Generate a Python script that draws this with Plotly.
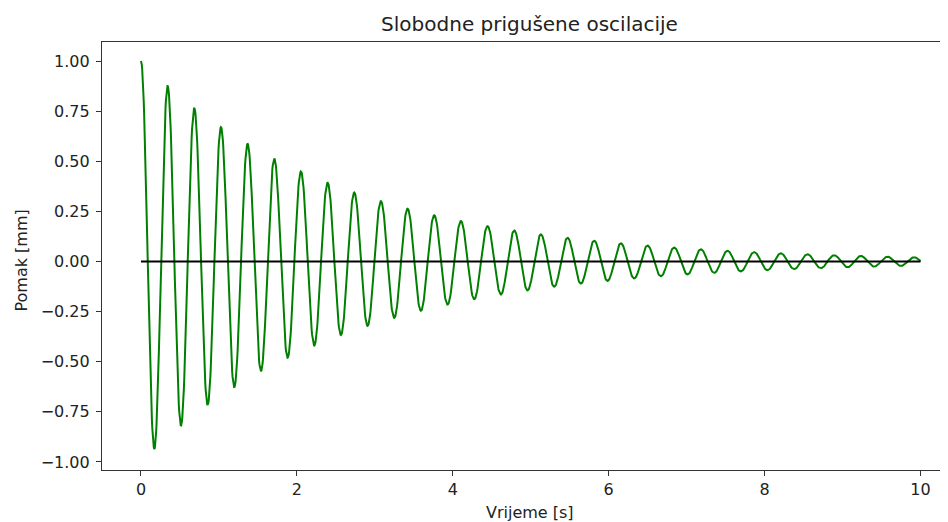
import numpy as np
import plotly.graph_objects as go

# Values
t_start, t_end = 0.0, 10.0        # time span [s]
x0 = 1.0                           # initial displacement [mm]
period = 0.342                     # damped period read from peak spacing [s]
peak_ratio = 0.875                 # ratio of successive peaks
n_samples = 2001

sigma = -np.log(peak_ratio) / period
omega_d = 2 * np.pi / period

t = np.linspace(t_start, t_end, n_samples)
x = x0 * np.exp(-sigma * t) * (np.cos(omega_d * t) + sigma / omega_d * np.sin(omega_d * t))

zero_t = [t_start, t_end]
zero_x = [0.0, 0.0]

y_ticks = [-1.00, -0.75, -0.50, -0.25, 0.00, 0.25, 0.50, 0.75, 1.00]
x_ticks = [0, 2, 4, 6, 8, 10]

# page body has an 8px offset; all target positions below are screen pixels
OFF = 8
W, H = 948, 522
L = 101.5 - OFF
T = 42 - OFF
R = OFF
B = H - (470 - OFF)
pw, ph = W - L - R, H - T - B
px_per_unit = 78.0
x_lo = -0.5
x_hi = x_lo + pw / px_per_unit


def ann_pos(sx, sy):
    fx, fy = sx - OFF, sy - OFF
    return (fx - L) / pw, 1 - (fy - T) / ph


fig = go.Figure()
fig.add_trace(go.Scatter(x=t, y=x, mode="lines", line=dict(color="#008000", width=2), hoverinfo="skip"))
fig.add_trace(go.Scatter(x=zero_t, y=zero_x, mode="lines", line=dict(color="black", width=2), hoverinfo="skip"))

font = "DejaVu Sans"
ax_x, ax_y = ann_pos(530, 512)
ay_x, ay_y = ann_pos(20, 261)
fig.update_layout(
    width=W, height=H,
    margin=dict(l=L, r=R, t=T, b=B, autoexpand=False),
    paper_bgcolor="white", plot_bgcolor="white",
    showlegend=False,
    font=dict(family=font, size=16, color="#222"),
    title=dict(text="Slobodne prigušene oscilacije", x=(529.5 - OFF) / W, xref="container", xanchor="center",
               y=1 - (24 - OFF) / H, yref="container", yanchor="middle", font=dict(size=20, color="#222")),
    xaxis=dict(range=[x_lo, x_hi], tickvals=x_ticks, ticktext=[str(v) for v in x_ticks],
               showgrid=False, zeroline=False, showline=True, linecolor="#333", linewidth=1.2,
               mirror=True, ticks="outside", ticklen=5, tickcolor="#333", automargin=False),
    yaxis=dict(range=[-1.0404, 1.0948], tickvals=y_ticks, ticktext=[f"{v:.2f}".replace("-", "\u2212") for v in y_ticks],
               showgrid=False, zeroline=False, showline=True, linecolor="#333", linewidth=1.2,
               mirror=False, ticks="outside", ticklen=5, tickcolor="#333", automargin=False,
               ticklabelstandoff=3),
    annotations=[
        dict(text="Vrijeme [s]", x=ax_x, y=ax_y, xref="paper", yref="paper",
             xanchor="center", yanchor="middle", showarrow=False, font=dict(size=16, color="#222")),
        dict(text="Pomak [mm]", x=ay_x, y=ay_y, xref="paper", yref="paper",
             xanchor="center", yanchor="middle", textangle=-90, showarrow=False, font=dict(size=16, color="#222")),
    ],
)

fig.write_html("out.html")
